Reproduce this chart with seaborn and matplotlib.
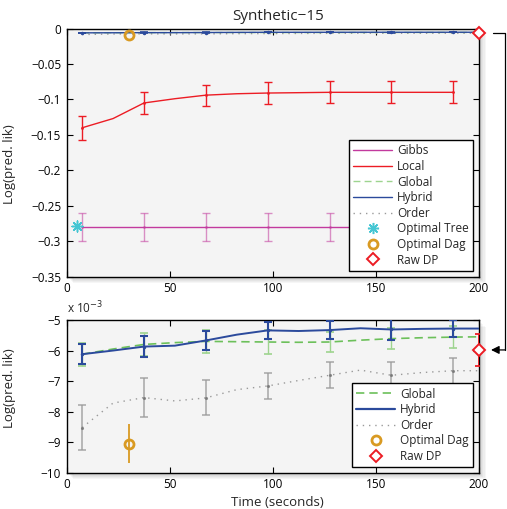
import numpy as np
import pandas as pd
import matplotlib
matplotlib.use("Agg")
import matplotlib.pyplot as plt
import seaborn as sns
from matplotlib.lines import Line2D
from matplotlib.patches import Rectangle, FancyArrowPatch
from matplotlib.ticker import FuncFormatter

# ---------------- data ----------------
# time grid of the sampled curves (seconds)
t_line = [7.5, 22.5, 37.5, 52.5, 67.5, 82.5, 97.5, 112.5, 127.5, 142.5, 157.5, 172.5, 187.5, 200]
# times where error bars were drawn
t_err = [7.5, 37.5, 67.5, 97.5, 127.5, 157.5, 187.5]

# Gibbs (top panel)
gibbs_mean = [-0.280, -0.280, -0.280, -0.280, -0.280, -0.280, -0.280]
gibbs_err = [0.020, 0.020, 0.020, 0.020, 0.020, 0.020, 0.020]

# Local (top panel)
local_line = [-0.140, -0.127, -0.105, -0.099, -0.094, -0.092, -0.091, -0.0905, -0.090, -0.090, -0.090, -0.090, -0.090]
local_mean = [-0.140, -0.105, -0.094, -0.091, -0.090, -0.090, -0.090]
local_err = [0.017, 0.016, 0.015, 0.015, 0.0155, 0.0155, 0.0155]

# values below are in units of 1e-3
global_line = [-6.12, -5.95, -5.80, -5.74, -5.70, -5.71, -5.72, -5.73, -5.72, -5.66, -5.61, -5.58, -5.56, -5.55]
global_mean = [-6.12, -5.80, -5.70, -5.72, -5.72, -5.61, -5.56]
global_err = [0.38, 0.38, 0.38, 0.40, 0.33, 0.35, 0.35]

hybrid_line = [-6.12, -6.00, -5.87, -5.84, -5.67, -5.48, -5.34, -5.36, -5.33, -5.27, -5.31, -5.29, -5.28, -5.28]
hybrid_mean = [-6.12, -5.87, -5.67, -5.34, -5.33, -5.31, -5.28]
hybrid_err = [0.33, 0.33, 0.30, 0.29, 0.29, 0.33, 0.27]

order_line = [-8.52, -7.72, -7.54, -7.65, -7.55, -7.28, -7.16, -6.98, -6.81, -6.64, -6.81, -6.72, -6.66, -6.66]
order_mean = [-8.52, -7.54, -7.55, -7.16, -6.81, -6.81, -6.66]
order_err = [0.73, 0.65, 0.57, 0.44, 0.43, 0.42, 0.43]

opt_tree_t, opt_tree_v = [5.0], [-0.278]
opt_dag_t, opt_dag_v, opt_dag_err = [30.0], [-9.05], [0.63]        # 1e-3 units
raw_dp_t, raw_dp_v, raw_dp_err = [200.0], [-5.98], [0.52]          # 1e-3 units

x_ticks = [0, 50, 100, 150, 200]
top_yticks = [-0.35, -0.3, -0.25, -0.2, -0.15, -0.1, -0.05, 0]
bot_yticks = [-10, -9, -8, -7, -6, -5]

SC = 1e-3

# ---------------- style ----------------
sns.set_style("ticks")
plt.rcParams["font.family"] = ["Open Sans", "DejaVu Sans"]
plt.rcParams["axes.unicode_minus"] = True

C_GIBBS = "#c23a9e"
C_LOCAL = "#ec1c24"
C_GLOBAL = "#6cc05a"
C_GLOBAL_E = "#9ed48f"
C_HYBRID = "#2b4a9c"
C_ORDER = "#9a9a9a"
C_TREE = "#45c6d3"
C_DAG = "#d99a22"
C_DP = "#ec1c24"

GLOBAL_LS = (0, (5, 3))
ORDER_LS = (0, (1, 3.5))
CAP = 2.7

fig = plt.figure(figsize=(5.07, 5.09), dpi=100)
fig.patch.set_facecolor("white")

ax1 = fig.add_axes([0.1315, 0.4564, 0.8133, 0.4876])
ax2 = fig.add_axes([0.1315, 0.0713, 0.8133, 0.3000])

# drop shadows
for ax in (ax1, ax2):
    pos = ax.get_position()
    for i in range(1, 7):
        d = i * 0.0022
        fig.add_artist(Rectangle((pos.x0 + d, pos.y0 - d), pos.width, pos.height,
                                 transform=fig.transFigure, facecolor="black",
                                 edgecolor="none", alpha=0.035, zorder=-1))

for ax in (ax1, ax2):
    ax.set_facecolor("#f4f4f4")
    for s in ax.spines.values():
        s.set_linewidth(1.0)
        s.set_color("black")
    ax.tick_params(direction="in", top=True, right=True, length=4, width=0.8,
                   labelsize=8.5, colors="black", pad=4)
    ax.set_xlim(0, 200)
    ax.set_xticks(x_ticks)

fmt = FuncFormatter(lambda v, _: ("%g" % round(v, 3)).replace("-", "\u2212"))

# ---------------- top panel ----------------
sns.lineplot(x=t_err, y=gibbs_mean, ax=ax1, color=C_GIBBS, linewidth=1.0, errorbar=None, zorder=3)
ax1.errorbar(t_err, gibbs_mean, yerr=gibbs_err, fmt=".", markersize=2, color=C_GIBBS,
             ecolor=C_GIBBS, alpha=0.55, elinewidth=1.0, capsize=CAP, capthick=1.0, zorder=3)

sns.lineplot(x=t_line[:13], y=local_line, ax=ax1, color=C_LOCAL, linewidth=1.0, errorbar=None, zorder=4)
ax1.errorbar(t_err, local_mean, yerr=local_err, fmt=".", markersize=2, color=C_LOCAL,
             ecolor=C_LOCAL, elinewidth=1.0, capsize=CAP, capthick=1.0, zorder=4)

sc = lambda a: [v * SC for v in a]
sns.lineplot(x=t_line, y=sc(order_line), ax=ax1, color=C_ORDER, linewidth=1.0,
             linestyle=ORDER_LS, errorbar=None, zorder=4)
sns.lineplot(x=t_line, y=sc(global_line), ax=ax1, color=C_GLOBAL, linewidth=1.0,
             linestyle=GLOBAL_LS, alpha=0.7, errorbar=None, zorder=4)
sns.lineplot(x=t_line, y=sc(hybrid_line), ax=ax1, color=C_HYBRID, linewidth=1.0, errorbar=None, zorder=5)
ax1.errorbar(t_err, sc(hybrid_mean), yerr=sc(hybrid_err), fmt=".", markersize=3, color=C_HYBRID,
             ecolor=C_HYBRID, elinewidth=1.2, capsize=CAP, capthick=1.2, zorder=5)

sns.scatterplot(x=opt_tree_t, y=opt_tree_v, ax=ax1, marker=(8, 2, 0), s=60,
                color=C_TREE, linewidth=1.1, edgecolor=C_TREE, zorder=6, clip_on=False)
ax1.plot(opt_dag_t, sc(opt_dag_v), linestyle="none", marker="o", markersize=6.5,
         markerfacecolor="none", markeredgecolor=C_DAG, markeredgewidth=2.0, zorder=6)
ax1.plot(raw_dp_t, sc(raw_dp_v), linestyle="none", marker="D", markersize=6,
         markerfacecolor="white", markeredgecolor=C_DP, markeredgewidth=1.4, zorder=7, clip_on=False)

ax1.set_ylim(-0.35, 0)
ax1.set_yticks(top_yticks)
ax1.yaxis.set_major_formatter(fmt)
ax1.set_title("Synthetic\u221215", fontsize=11, x=0.5125, pad=6)
ax1.set_ylabel("Log(pred. lik)", fontsize=9.5)
ax1.yaxis.set_label_coords(-0.123, 0.454)
ax1.set_xlabel("")

h_top = [
    Line2D([], [], color=C_GIBBS, lw=1.0),
    Line2D([], [], color=C_LOCAL, lw=1.0),
    Line2D([], [], color=C_GLOBAL_E, lw=1.0, linestyle=GLOBAL_LS),
    Line2D([], [], color=C_HYBRID, lw=1.0),
    Line2D([], [], color=C_ORDER, lw=1.0, linestyle=ORDER_LS),
    Line2D([], [], color=C_TREE, lw=0, marker=(8, 2, 0), markersize=8, markeredgewidth=1.1),
    Line2D([], [], color=C_DAG, lw=0, marker="o", markersize=6.5, markerfacecolor="none", markeredgewidth=2.0),
    Line2D([], [], color=C_DP, lw=0, marker="D", markersize=6, markerfacecolor="white", markeredgewidth=1.4),
]
l_top = ["Gibbs", "Local", "Global", "Hybrid", "Order", "Optimal Tree", "Optimal Dag", "Raw DP"]
leg1 = ax1.legend(h_top, l_top, loc="lower right", bbox_to_anchor=(0.985, 0.024),
                  fontsize=8.5, frameon=True, fancybox=False, framealpha=1, edgecolor="black",
                  handlelength=3.3, handletextpad=0.4, labelspacing=0.22, borderpad=0.35,
                  borderaxespad=0, numpoints=1)
leg1.get_frame().set_linewidth(1.0)
leg1.set_zorder(10)

# ---------------- bottom panel ----------------
sns.lineplot(x=t_line, y=order_line, ax=ax2, color=C_ORDER, linewidth=1.0,
             linestyle=ORDER_LS, errorbar=None, zorder=3)
ax2.errorbar(t_err, order_mean, yerr=order_err, fmt=".", markersize=2.5, color="#777777",
             ecolor=C_ORDER, alpha=0.8, elinewidth=1.2, capsize=CAP, capthick=1.2, zorder=3)

sns.lineplot(x=t_line, y=global_line, ax=ax2, color=C_GLOBAL, linewidth=1.2,
             linestyle=GLOBAL_LS, errorbar=None, zorder=4)
ax2.errorbar(t_err, global_mean, yerr=global_err, fmt="none",
             ecolor=C_GLOBAL_E, elinewidth=1.0, capsize=CAP, capthick=1.2, zorder=4)

sns.lineplot(x=t_line, y=hybrid_line, ax=ax2, color=C_HYBRID, linewidth=1.4, errorbar=None, zorder=5)
ax2.errorbar(t_err, hybrid_mean, yerr=hybrid_err, fmt=".", markersize=3, color=C_HYBRID,
             ecolor=C_HYBRID, elinewidth=1.5, capsize=CAP, capthick=1.5, zorder=5)

ax2.errorbar(opt_dag_t, opt_dag_v, yerr=opt_dag_err, fmt="o", markersize=6.5,
             markerfacecolor="none", markeredgecolor=C_DAG, markeredgewidth=2.0,
             ecolor=C_DAG, elinewidth=1.3, capsize=0, zorder=6)
ax2.errorbar(raw_dp_t, raw_dp_v, yerr=raw_dp_err, fmt="none", ecolor=C_DP,
             elinewidth=1.3, capsize=CAP, capthick=1.3, zorder=6)
ax2.plot(raw_dp_t, raw_dp_v, linestyle="none", marker="D", markersize=6,
         markerfacecolor="white", markeredgecolor=C_DP, markeredgewidth=1.4, zorder=7, clip_on=False)

ax2.set_ylim(-10, -5)
ax2.set_yticks(bot_yticks)
ax2.yaxis.set_major_formatter(fmt)
ax2.set_ylabel("Log(pred. lik)", fontsize=9.5)
ax2.yaxis.set_label_coords(-0.123, 0.555)
ax2.set_xlabel("Time (seconds)", fontsize=9.5)
ax2.xaxis.set_label_coords(0.512, -0.15)
ax2.text(0.0, 1.025, "x 10$^{\u22123}$", transform=ax2.transAxes, fontsize=8.5,
         ha="left", va="bottom")

h_bot = [
    Line2D([], [], color=C_GLOBAL, lw=1.2, linestyle=GLOBAL_LS),
    Line2D([], [], color=C_HYBRID, lw=1.6),
    Line2D([], [], color=C_ORDER, lw=1.0, linestyle=ORDER_LS),
    Line2D([], [], color=C_DAG, lw=0, marker="o", markersize=6.5, markerfacecolor="none", markeredgewidth=2.0),
    Line2D([], [], color=C_DP, lw=0, marker="D", markersize=6, markerfacecolor="white", markeredgewidth=1.4),
]
l_bot = ["Global", "Hybrid", "Order", "Optimal Dag", "Raw DP"]
leg2 = ax2.legend(h_bot, l_bot, loc="lower right", bbox_to_anchor=(0.985, 0.037),
                  fontsize=8.5, frameon=True, fancybox=False, framealpha=1, edgecolor="black",
                  handlelength=3.3, handletextpad=0.4, labelspacing=0.22, borderpad=0.35,
                  borderaxespad=0, numpoints=1)
leg2.get_frame().set_linewidth(1.0)
leg2.set_zorder(10)

# ---------------- connector arrow (Raw DP top -> bottom) ----------------
fig.canvas.draw()
inv = fig.transFigure.inverted()
p_top = ax1.transData.transform((raw_dp_t[0], raw_dp_v[0] * SC))
p_bot = ax2.transData.transform((raw_dp_t[0], raw_dp_v[0]))
x_out = p_top[0] + 26
a = inv.transform((p_top[0] + 14, p_top[1]))
b = inv.transform((x_out, p_top[1]))
c = inv.transform((x_out, p_bot[1]))
d = inv.transform((p_bot[0] + 12, p_bot[1]))
fig.add_artist(Line2D([a[0], b[0], c[0]], [a[1], b[1], c[1]], transform=fig.transFigure,
                      color="black", lw=0.9))
fig.add_artist(FancyArrowPatch(c, d, transform=fig.transFigure, arrowstyle="-|>",
                               mutation_scale=12, color="black", lw=0.9, shrinkA=0, shrinkB=0))

fig.savefig("out.png", dpi=100)
